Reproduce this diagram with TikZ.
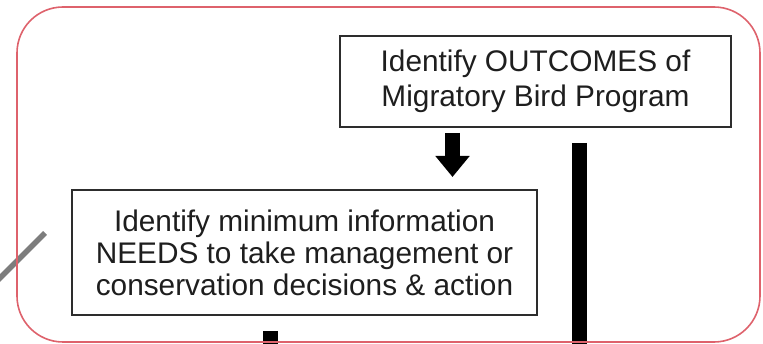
\documentclass[tikz,border=0pt]{standalone}
\usepackage{fontspec}
\setmainfont{Liberation Sans}
\usetikzlibrary{arrows.meta,calc}
\definecolor{framered}{RGB}{222,98,108}
\definecolor{boxline}{RGB}{45,45,45}
\definecolor{txt}{RGB}{30,30,30}
\definecolor{slash}{RGB}{125,125,125}
\begin{document}
\begin{tikzpicture}[x=1pt,y=-1pt,
  box/.style={draw=boxline, line width=2pt, fill=white, text=txt, align=center, inner sep=0pt},
  bar/.style={line width=15.5pt, black},
  ]
\useasboundingbox (0,0) rectangle (763,344);
% grey slash entering from the left
\coordinate (g1) at (-12,290);
\coordinate (g2) at (45,233);
\begin{scope}
\clip (0,0) rectangle (763,344);
\draw[slash, line width=5.5pt] (g1) -- (g2);
\end{scope}
% boxes
\node[box, minimum width=391pt, minimum height=91pt,
      font=\fontsize{29.8}{35}\selectfont] (out) at (535.5,81.5)
      {Identify OUTCOMES of\\Migratory Bird Program};
\node[box, minimum width=465pt, minimum height=125pt,
      font=\fontsize{29.8}{32}\selectfont] (needs) at (304.5,252.5)
      {Identify minimum information\\NEEDS to take management or\\conservation decisions \& action};
% arrow between boxes
\coordinate (ax) at (452.5,0);
\draw[line width=15pt, -{Triangle[width=33pt,length=21pt]}]
  ([yshift=-5pt]out.south -| ax) -- ([yshift=12pt]needs.north -| ax);
% thick bars leaving the picture
\coordinate (bx) at (579.5,350);
\draw[bar] ([yshift=-15pt]out.south -| bx) -- (bx);
\coordinate (sx) at (270.5,350);
\draw[bar] ([yshift=-15pt]needs.south -| sx) -- (sx);
% red rounded frame
\draw[framered, line width=1.6pt, rounded corners=46pt] (17,7) rectangle (760,342);
\end{tikzpicture}
\end{document}
